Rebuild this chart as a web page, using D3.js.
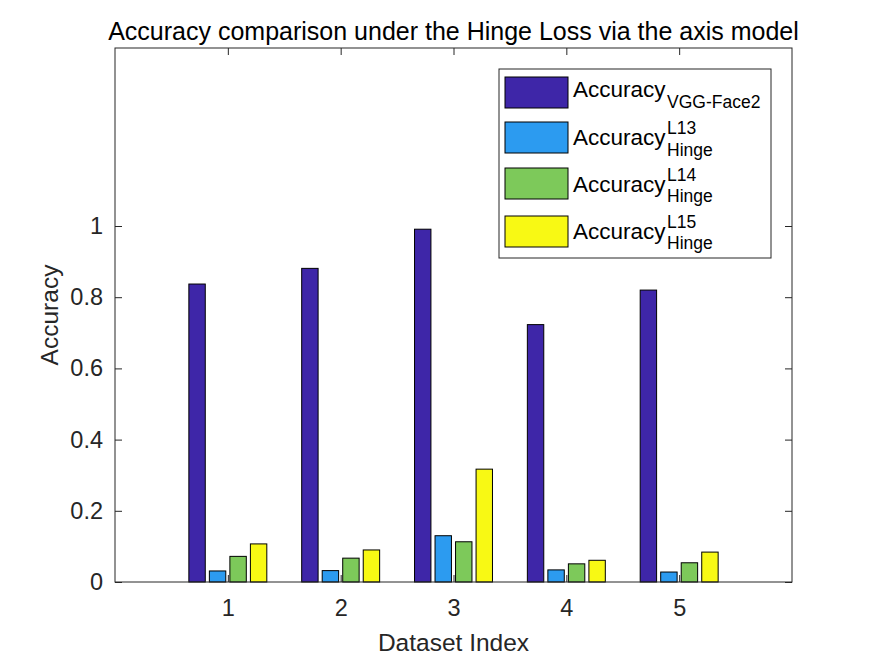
<!DOCTYPE html>
<html>
<head>
<meta charset="utf-8">
<script src="https://cdn.jsdelivr.net/npm/d3@7/dist/d3.min.js"></script>
<style>
  html, body { margin: 0; padding: 0; background: #fff; }
  svg { display: block; font-family: "Liberation Sans", Arial, sans-serif; }
</style>
</head>
<body>
<svg id="chart" width="875" height="656"></svg>
<script>
// ---- data ----
const categories = [1, 2, 3, 4, 5];
const seriesNames = ["VGG-Face2", "L13", "L14", "L15"];
const vggFace2 = [0.837, 0.881, 0.991, 0.723, 0.820];
const hingeL13 = [0.031, 0.032, 0.130, 0.034, 0.028];
const hingeL14 = [0.072, 0.067, 0.113, 0.051, 0.054];
const hingeL15 = [0.107, 0.090, 0.317, 0.061, 0.084];
const yTicks = [0, 0.2, 0.4, 0.6, 0.8, 1];
const colors = ["#3e26a8", "#2c9bf0", "#7dc95a", "#f8f914"];
const titleText = "Accuracy comparison under the Hinge Loss via the axis model";
const xLabel = "Dataset Index";
const yLabel = "Accuracy";

const series = [vggFace2, hingeL13, hingeL14, hingeL15];

// ---- layout ----
const svg = d3.select("#chart");
const L = 115, R = 792, T = 48, B = 582;
const axisColor = "#262626";
const tickLen = 7;

const x = d3.scaleLinear().domain([0, 6]).range([L, R]);
const y = d3.scaleLinear().domain([0, 1.5]).range([B, T]);

// bar geometry (MATLAB grouped bar)
const nS = series.length;
const groupWidth = Math.min(0.8, nS / (nS + 1.5));
const pitch = groupWidth / nS;
const barW = pitch * 0.8;

svg.append("rect").attr("x", 0).attr("y", 0).attr("width", 875).attr("height", 656).attr("fill", "#fff");

// bars
series.forEach((vals, j) => {
  svg.append("g").selectAll("rect")
    .data(vals)
    .join("rect")
    .attr("x", (d, i) => x(categories[i] + (j - (nS - 1) / 2) * pitch - barW / 2))
    .attr("width", (d, i) => x(barW) - x(0))
    .attr("y", d => y(d))
    .attr("height", d => y(0) - y(d))
    .attr("fill", colors[j])
    .attr("stroke", "#000")
    .attr("stroke-width", 1);
});

// axes
const fmt = d => (d === 0 ? "0" : d === 1 ? "1" : String(d));
const xAxisB = d3.axisBottom(x).tickValues(categories).tickSize(-tickLen).tickPadding(17).tickFormat(d3.format("d"));
const xAxisT = d3.axisTop(x).tickValues(categories).tickSize(-tickLen).tickFormat("");
const yAxisL = d3.axisLeft(y).tickValues(yTicks).tickSize(-tickLen).tickPadding(12).tickFormat(fmt);
const yAxisR = d3.axisRight(y).tickValues(yTicks).tickSize(-tickLen).tickFormat("");

function style(g) {
  g.select(".domain").remove();
  g.selectAll(".tick line").attr("stroke", axisColor).attr("stroke-width", 1);
  g.selectAll(".tick text").attr("fill", axisColor).style("font-size", "23.5px")
    .style("font-family", "'Liberation Sans', Arial, sans-serif");
}
svg.append("g").attr("transform", `translate(0,${B})`).call(xAxisB).call(style);
svg.append("g").attr("transform", `translate(0,${T})`).call(xAxisT).call(style);
svg.append("g").attr("transform", `translate(${L},0)`).call(yAxisL).call(style);
svg.append("g").attr("transform", `translate(${R},0)`).call(yAxisR).call(style);

// frame
svg.append("rect").attr("x", L).attr("y", T).attr("width", R - L).attr("height", B - T)
  .attr("fill", "none").attr("stroke", axisColor).attr("stroke-width", 1);

// title & labels
svg.append("text").attr("x", (L + R) / 2).attr("y", 40).attr("text-anchor", "middle")
  .attr("fill", "#000").style("font-size", "25px").text(titleText);
svg.append("text").attr("x", (L + R) / 2).attr("y", 651).attr("text-anchor", "middle")
  .attr("fill", axisColor).style("font-size", "24.5px").text(xLabel);
svg.append("text").attr("transform", `translate(58,${(T + B) / 2}) rotate(-90)`).attr("text-anchor", "middle")
  .attr("fill", axisColor).style("font-size", "24.5px").text(yLabel);

// legend
const lg = svg.append("g");
const lx = 499, ly = 69, lw = 272, lh = 189;
lg.append("rect").attr("x", lx).attr("y", ly).attr("width", lw).attr("height", lh)
  .attr("fill", "#fff").attr("stroke", axisColor).attr("stroke-width", 1);
const entryTop = [77, 122, 168, 216];
const baseOff = [20, 23, 23.5, 22.5];
seriesNames.forEach((name, j) => {
  const ty = entryTop[j];
  lg.append("rect").attr("x", 505).attr("y", ty).attr("width", 63).attr("height", 31)
    .attr("fill", colors[j]).attr("stroke", "#000").attr("stroke-width", 1);
  const base = ty + baseOff[j];
  lg.append("text").attr("x", 573).attr("y", base).attr("fill", "#000")
    .style("font-size", "22.5px").text("Accuracy");
  if (j === 0) {
    lg.append("text").attr("x", 667).attr("y", base + 10.5).attr("fill", "#000")
      .style("font-size", "17.5px").text(name);
  } else {
    lg.append("text").attr("x", 667).attr("y", base - 11).attr("fill", "#000")
      .style("font-size", "17.5px").text(name);
    lg.append("text").attr("x", 667).attr("y", base + 10.5).attr("fill", "#000")
      .style("font-size", "17.5px").text("Hinge");
  }
});
</script>
</body>
</html>
